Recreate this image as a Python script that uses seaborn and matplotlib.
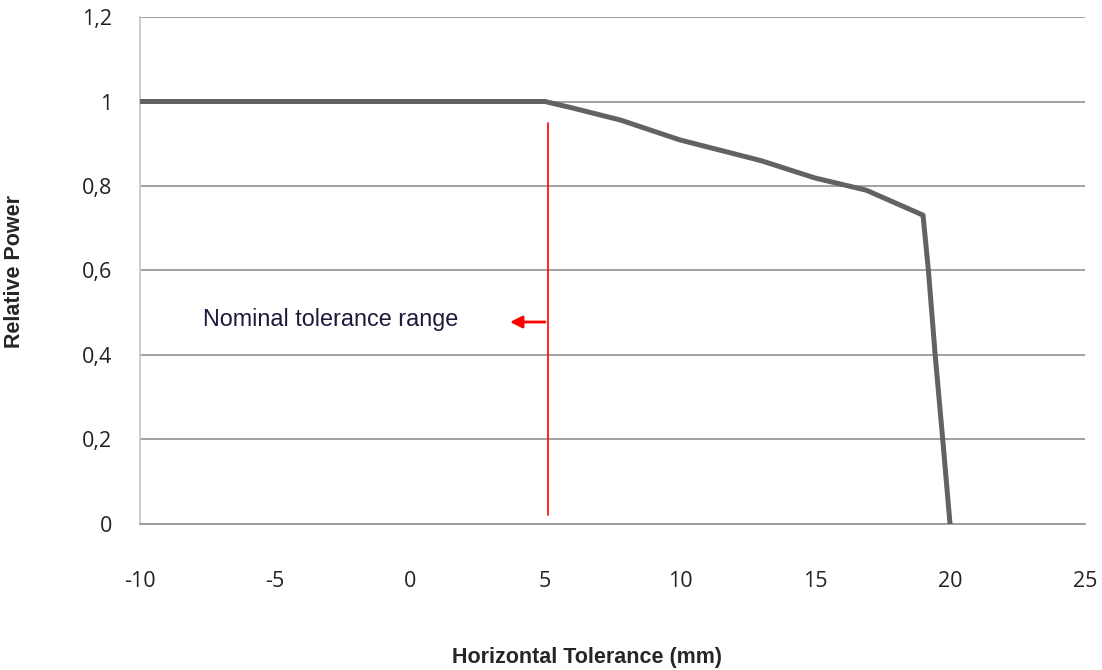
import matplotlib
matplotlib.use("Agg")
import matplotlib.pyplot as plt
import pandas as pd
import seaborn as sns

# Data
tolerance_mm = [-10, 5, 6, 7.8, 10, 13, 15, 16.9, 19, 19.2, 19.45, 19.73, 20]
relative_power = [1.0, 1.0, 0.985, 0.956, 0.909, 0.86, 0.819, 0.79, 0.731, 0.6, 0.4, 0.2, 0.0]

x_ticks = [-10, -5, 0, 5, 10, 15, 20, 25]
y_ticks = [0, 0.2, 0.4, 0.6, 0.8, 1.0, 1.2]
y_tick_labels = ["0", "0,2", "0,4", "0,6", "0,8", "1", "1,2"]

marker_x = 5.1
marker_y = [0.02, 0.95]
arrow_from = (5.1, 0.478)
arrow_to = (3.6, 0.478)

df = pd.DataFrame({"Horizontal Tolerance (mm)": tolerance_mm, "Relative Power": relative_power})

sns.set_style("white")
plt.rcParams["font.family"] = ["Open Sans", "DejaVu Sans"]

fig = plt.figure(figsize=(11.02, 6.70), dpi=100)
ax = fig.add_axes([0.127, 0.218, 0.8576, 0.7566])

sns.lineplot(data=df, x="Horizontal Tolerance (mm)", y="Relative Power", ax=ax,
             color="#626262", linewidth=3.6, zorder=3, sort=False)

ax.set_xlim(-10, 25)
ax.set_ylim(0, 1.2)
ax.set_xticks(x_ticks)
ax.set_xticklabels([str(t) for t in x_ticks])
ax.set_yticks(y_ticks)
ax.set_yticklabels(y_tick_labels)
ax.tick_params(axis="both", length=0, labelsize=15.5, labelcolor="#222222")
ax.tick_params(axis="x", pad=34)
ax.tick_params(axis="y", pad=20)

ax.yaxis.grid(True, color="#9a9a9a", linewidth=1.3)
ax.xaxis.grid(False)
for s in ["top", "right"]:
    ax.spines[s].set_visible(False)
ax.spines["left"].set_color("#c8c8c8")
ax.spines["left"].set_linewidth(1.3)
ax.spines["bottom"].set_color("#9a9a9a")
ax.spines["bottom"].set_linewidth(1.3)

# red tolerance marker
ax.plot([marker_x, marker_x], marker_y, color="red", linewidth=1.2, zorder=4)
ax.annotate("", xy=arrow_to, xytext=arrow_from,
            arrowprops=dict(arrowstyle="-|>", color="red", lw=2, mutation_scale=18),
            zorder=4)
ax.text(-7.67, 0.483, "Nominal tolerance range", fontsize=16.8, color="#1a1a3a",
        family=["Liberation Sans", "DejaVu Sans"], va="center", ha="left")

ax.set_xlabel("")
ax.set_ylabel("")
fig.text(587 / 1102, 1 - 657 / 670, "Horizontal Tolerance (mm)", fontsize=15.5,
         fontweight="bold", family=["Liberation Sans", "DejaVu Sans"],
         ha="center", va="center")
fig.text(15 / 1102, 1 - 272 / 670, "Relative Power", fontsize=15.5,
         fontweight="bold", family=["Liberation Sans", "DejaVu Sans"],
         ha="center", va="center", rotation=90)

fig.savefig("out.png", dpi=100)
